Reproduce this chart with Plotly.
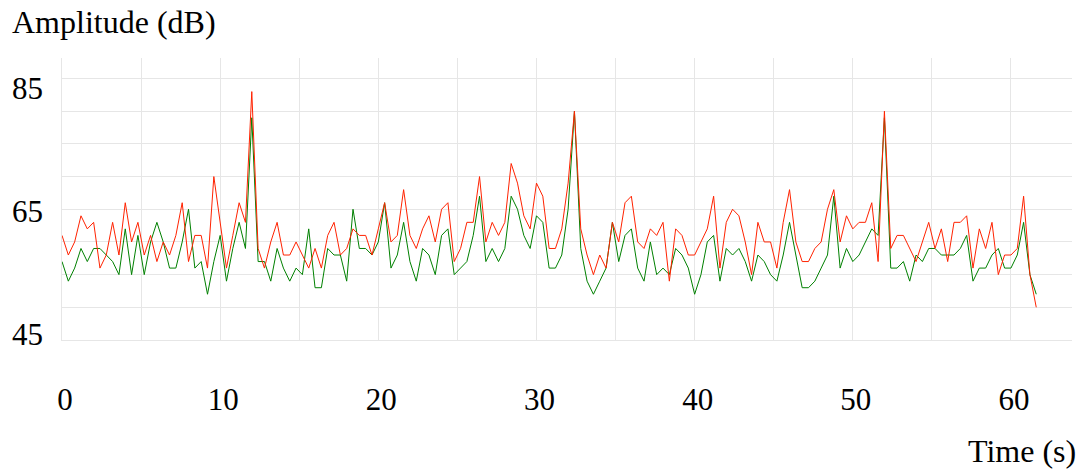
import plotly.graph_objects as go

# ---- data ----
SAMPLE_PERIOD_S = 0.4
red_db = [
    61, 58, 60, 64, 62, 63, 56, 58, 63, 58, 66, 60, 63, 58, 61, 57, 60, 58, 61, 66,
    57, 61, 61, 56, 70, 63, 56, 61, 66, 63, 83,
    59, 56, 60, 63, 58, 58, 60, 58, 56, 59, 56, 61, 63, 58, 59, 62, 61, 61, 58, 62,
    66, 60, 61, 68, 61, 59, 62, 64, 60, 65, 66, 57, 59, 63, 63, 70, 60, 63, 61, 63,
    72, 69, 64, 62, 69, 67, 59, 59, 62,
    69, 80,
    62, 58, 55, 58, 56, 63, 60, 66, 67, 60, 59, 62, 61, 63, 54, 62, 61, 58, 58, 60,
    62, 67, 56, 63, 65, 64, 60, 55, 63, 60, 60, 56, 63, 68, 60, 57, 57, 59, 60, 65,
    68, 60, 64, 62, 63, 63, 66, 57,
    80,
    59, 61, 61, 59, 57, 60, 63, 59, 62, 57, 63, 63, 64, 56, 62, 59, 63, 55, 58, 58,
    59, 67, 55, 50,
]
green_db = [
    57, 54, 56, 59, 57, 59, 59, 58, 57, 55, 62, 55, 61, 55, 60, 63, 60, 56, 56, 60,
    65, 56, 57, 52, 57, 61, 54, 59, 63, 59, 79,
    57, 57, 54, 59, 56, 54, 56, 55, 62, 53, 53, 59, 58, 58, 54, 65, 59, 59, 58, 60,
    66, 56, 58, 63, 57, 54, 59, 58, 55, 61, 62, 55, 56, 57, 61, 67, 57, 59, 57, 59,
    67, 65, 61, 59, 64, 63, 56, 56, 58,
    65, 80,
    59, 54, 52, 54, 56, 63, 57, 61, 62, 56, 54, 60, 55, 56, 55, 59, 58, 56, 52, 55,
    60, 61, 54, 59, 58, 59, 57, 54, 58, 57, 55, 54, 58, 63, 58, 53, 53, 54, 56, 58,
    67, 56, 59, 57, 58, 60, 62, 61,
    79,
    56, 56, 57, 54, 58, 57, 59, 59, 58, 58, 58, 59, 61, 54, 56, 56, 58, 59, 56, 56,
    58, 63, 55, 52,
]
time_s = [round(i * SAMPLE_PERIOD_S, 2) for i in range(len(red_db))]

x_ticks = [0, 10, 20, 30, 40, 50, 60]
y_ticks = [45, 65, 85]
x_title = "Time (s)"
y_title = "Amplitude (dB)"

FONT = "Liberation Serif, Times New Roman, serif"
GRID = "#e6e6e6"

fig = go.Figure()
fig.add_trace(go.Scatter(x=time_s, y=green_db, mode="lines", name="green",
                         line=dict(color="#008000", width=1), showlegend=False))
fig.add_trace(go.Scatter(x=time_s, y=red_db, mode="lines", name="red",
                         line=dict(color="#ff2200", width=1), showlegend=False))
# carrier for the tick-label axis (no points)
fig.add_trace(go.Scatter(x=[], y=[], yaxis="y2", mode="lines",
                         showlegend=False, hoverinfo="skip"))

fig.update_layout(
    width=1084, height=472, autosize=False,
    margin=dict(l=62, r=12, t=58, b=132, pad=0),
    paper_bgcolor="white", plot_bgcolor="white",
    font=dict(family=FONT, color="black"),
    xaxis=dict(
        range=[0, 63.86], tickmode="array", tickvals=x_ticks,
        showgrid=True, gridcolor=GRID, gridwidth=1,
        minor=dict(dtick=5, tick0=0, showgrid=True, gridcolor=GRID, gridwidth=1),
        zeroline=False, showline=True, linecolor=GRID, linewidth=1, ticks="",
        tickfont=dict(family=FONT, size=31, color="black"),
        ticklabelstandoff=32, ticklabelshift=3,
    ),
    yaxis=dict(
        range=[45, 88.14], tick0=45, dtick=5,
        showgrid=True, gridcolor=GRID, gridwidth=1,
        zeroline=False, showline=True, linecolor=GRID, linewidth=1,
        ticks="", showticklabels=False,
    ),
    yaxis2=dict(
        overlaying="y", side="left", anchor="x",
        range=[44.02, 89.96], tickmode="array", tickvals=y_ticks,
        showgrid=False, zeroline=False, showline=False, ticks="",
        tickfont=dict(family=FONT, size=31, color="black"),
        ticklabelstandoff=18,
    ),
    annotations=[
        dict(text=y_title, xref="paper", yref="paper", x=-52 / 1010, y=1 + 56 / 282,
             xanchor="left", yanchor="top", showarrow=False,
             font=dict(family=FONT, size=32, color="black")),
        dict(text=x_title, xref="paper", yref="paper", x=1 + 6 / 1010, y=-131 / 282,
             xanchor="right", yanchor="bottom", showarrow=False,
             font=dict(family=FONT, size=32, color="black")),
    ],
)

fig.write_html("out.html")
